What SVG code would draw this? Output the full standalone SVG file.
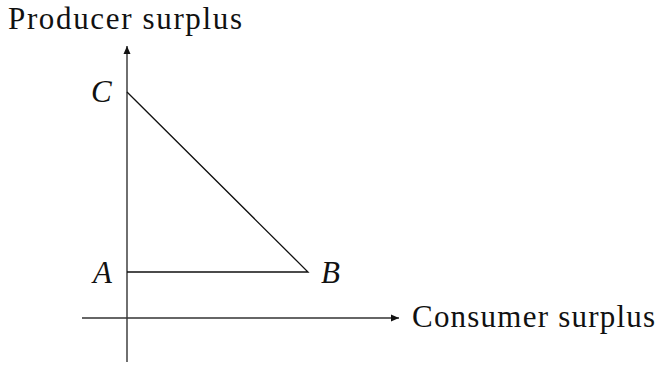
<svg xmlns="http://www.w3.org/2000/svg" width="657" height="365" viewBox="0 0 657 365">
<style>
.lbl{font-size:31px;fill:#111}
.it{font-style:italic}
.axis{stroke:#333;stroke-width:1.4;fill:none}
.edge{stroke:#111;stroke-width:1.3;fill:none}
</style>
<defs>
<marker id="arr" markerWidth="10" markerHeight="10" refX="9" refY="5" orient="auto" markerUnits="userSpaceOnUse">
<path d="M1,1.5 L9,5 L1,8.5 Z" fill="#111"/>
</marker>
</defs>
<g id="connectors">
<line class="axis" x1="127" y1="362" x2="127" y2="46" marker-end="url(#arr)"/>
<line class="axis" x1="82" y1="318" x2="399" y2="318" marker-end="url(#arr)"/>
<polyline class="edge" points="127,92 308,272 127,272"/>
</g>
<g font-family="'Liberation Serif', 'Times New Roman', Times, 'DejaVu Serif', serif">
<g id="y-label"><text class="lbl" x="8" y="29" textLength="234">Producer surplus</text></g>
<g id="x-label"><text class="lbl" x="412" y="327" textLength="243">Consumer surplus</text></g>
<g id="C"><text class="lbl it" x="91" y="102">C</text></g>
<g id="A"><text class="lbl it" x="93" y="283">A</text></g>
<g id="B"><text class="lbl it" x="321" y="283">B</text></g>
</g>
</svg>
